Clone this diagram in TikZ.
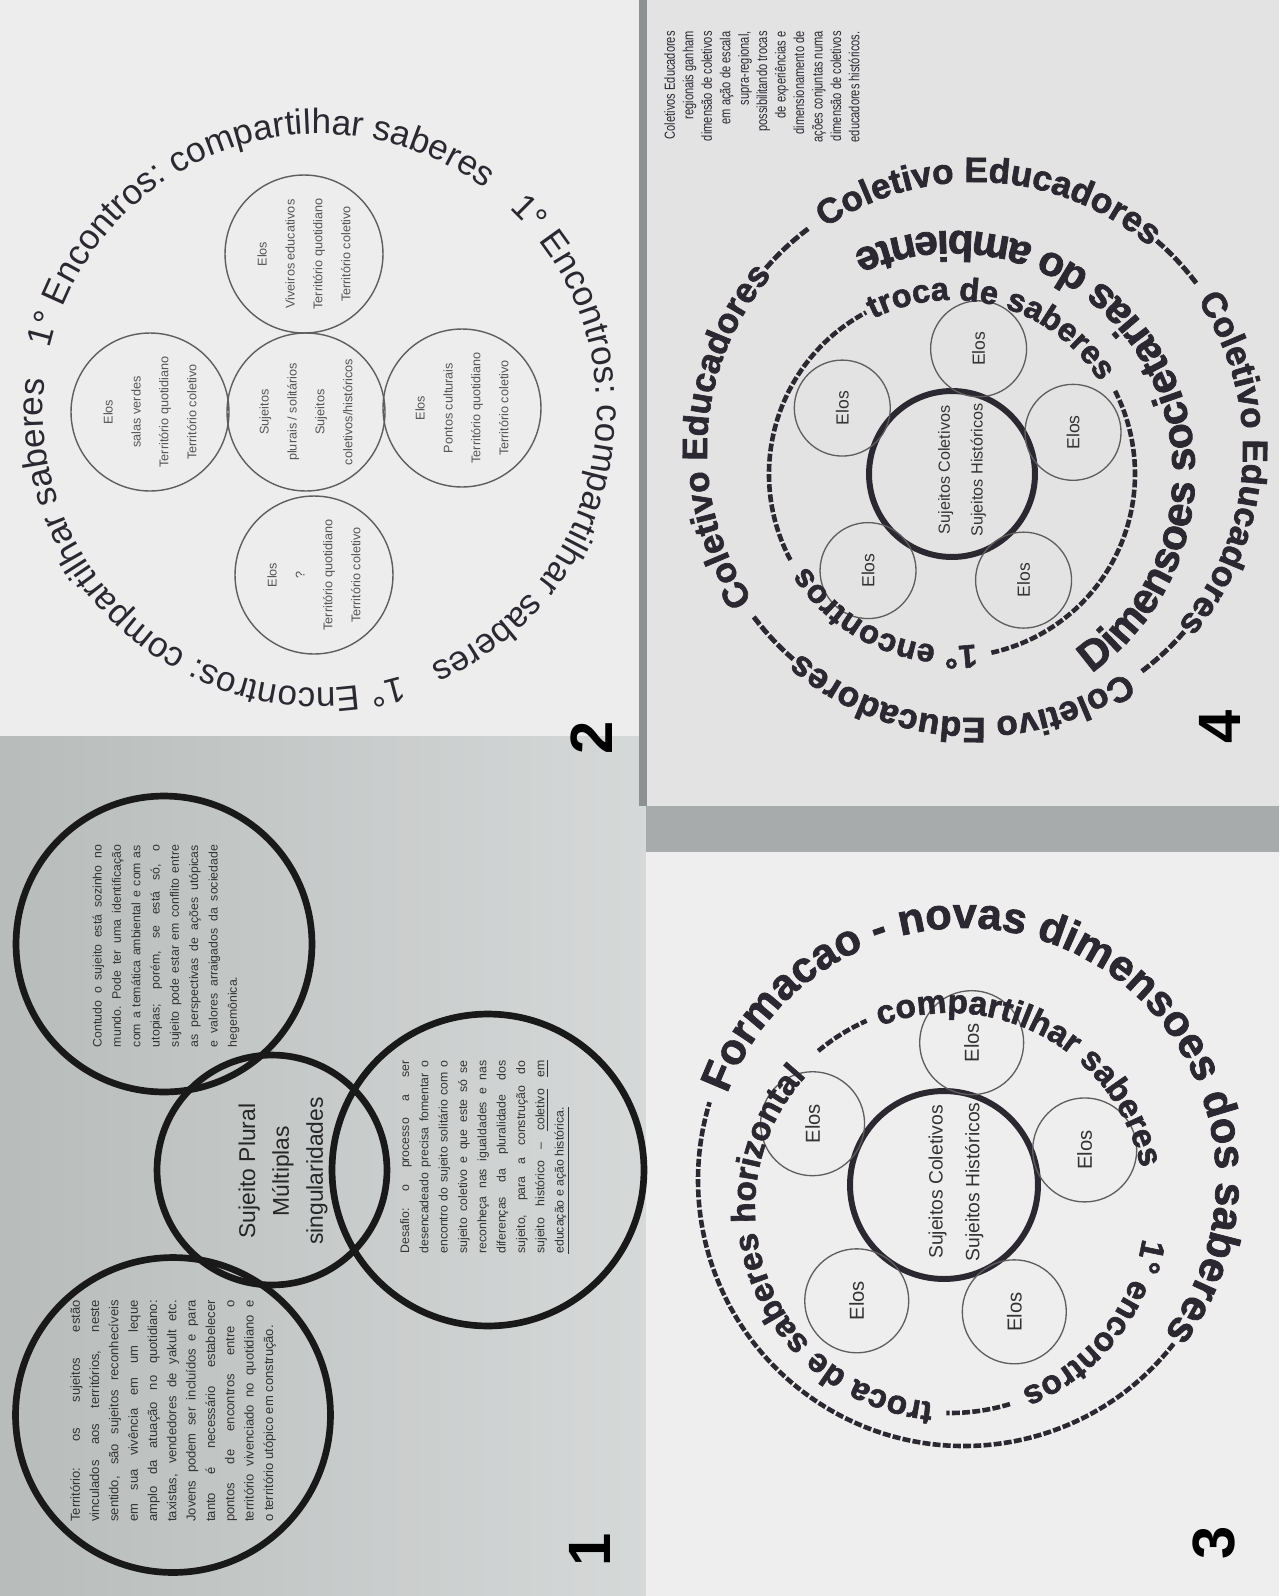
\documentclass[tikz,border=0pt]{standalone}
\usepackage{fontspec}
\setmainfont{Liberation Sans}
\newfontfamily\heavyfont{Liberation Sans}[FakeBold=1.8]
\newfontfamily\narrowfont{Liberation Sans}[FakeStretch=0.76]
\usepackage{tikz}
\usetikzlibrary{calc,decorations.text}
\definecolor{papelA}{HTML}{EDEDED}
\definecolor{papelB}{HTML}{E3E3E3}
\definecolor{papelC}{HTML}{EEEEEE}
\definecolor{fotocinza}{HTML}{C8CCCB}
\definecolor{faixa}{HTML}{A7ABAB}
\definecolor{tinta}{HTML}{2B2831}
\definecolor{cinzatexto}{HTML}{555555}
\definecolor{traco}{HTML}{5E5E5E}
\newdimen\jlw
\newcommand{\jline}[1]{\hbox to\jlw{\spaceskip=.28em plus 1fil\xspaceskip=.28em plus 1fil\relax#1}}

\begin{document}
\begin{tikzpicture}[x=0.02cm,y=0.02cm,
  disco/.style={circle,draw=traco,line width=0.8pt,minimum size=3.16cm,inner sep=0pt,
    rotate=90,align=center,text=cinzatexto,font=\fontsize{7.2}{15.9}\selectfont},
  elos/.style={circle,draw=traco,line width=0.75pt,inner sep=0pt,rotate=90,text=black!80},
  nucleo/.style={circle,draw=tinta,line width=3.4pt,inner sep=0pt},
  aro/.style={circle,draw=black!90,line width=3.8pt,inner sep=0pt},
  paragrafo/.style={rotate=90,inner sep=0pt,text=black!80},
  numero/.style={rotate=90,inner sep=0pt,font=\bfseries\fontsize{34}{34}\selectfont},
  tracejado/.style={draw=tinta,line width=2.6pt,dash pattern=on 4.5pt off 1.3pt},
  anel/.style 2 args={decorate,decoration={text along path,text color=tinta,text={|#1|#2}}}]
  \useasboundingbox (0,0) rectangle (1279,-1596); % 全体の枠
  \fill[papelA] (0,0) rectangle (643,-736); % 2の紙
  \shade[left color=fotocinza!92!black,right color=fotocinza!75!white] (0,-736) rectangle (646,-1596); % 1の写真
  \fill[papelB] (646,0) rectangle (1279,-806); % 4の紙
  \fill[faixa] (646,-806) rectangle (1279,-852); % 4と3の間の帯
  \fill[papelC] (646,-852) rectangle (1279,-1596); % 3の紙
  \fill[faixa!85!black] (639,0) rectangle (647,-806); % 2と4の間の線

  % 2
  \coordinate (c2) at (320,-411);
  \foreach \s in {167,47,-73}
    \path[anel={\fontsize{20}{20}\selectfont}{1° Encontros: compartilhar saberes}]
      ($(c2)+(\s:277)$) arc[start angle=\s,end angle=\s-118,radius=277]; % 円周上の文字
  \node[disco] (salas) at (150,-412) {Elos\\salas verdes\\Território quotidiano\\Território coletivo};
  \node[disco] (plurais) at (306,-412) {Sujeitos\\plurais / solitários\\Sujeitos\\coletivos/históricos};
  \node[disco] (pontos) at (462,-408) {Elos\\Pontos culturais\\Território quotidiano\\Território coletivo};
  \node[disco] (viveiros) at (304,-254) {Elos\\Viveiros educativos\\Território quotidiano\\Território coletivo};
  \node[disco] (incognita) at (314,-575) {Elos\\?\\Território quotidiano\\Território coletivo};
  \node[numero] (num2) at (592,-738) {2};

  % 4
  \node[anchor=east,rotate=90,align=right,inner sep=0pt,text=tinta,
    font=\narrowfont\fontsize{8.3}{10.5}\selectfont] (nota) at (762,-31)
    {Coletivos Educadores\\regionais ganham\\dimensão de coletivos\\em ação de escala\\supra-regional,\\possibilitando trocas\\de experiências e\\dimensionamento de\\ações conjuntas numa\\dimensão de coletivos\\educadores históricos.};
  \coordinate (c4) at (975,-450);
  \foreach \s in {214,124,34,-56}
    \path[anel={\heavyfont\bfseries\fontsize{20}{20}\selectfont}{Coletivo Educadores-----}]
      ($(c4)+(\s:268)$) arc[start angle=\s,end angle=\s-95,radius=268]; % 外側の文字
  \node[nucleo,minimum size=3.32cm] (nucleo4) at (952,-474) {};
  \node[rotate=90,align=center,inner sep=0pt,text=black!80,font=\fontsize{9.2}{18.7}\selectfont] (sujeitos4) at (962,-470) {Sujeitos Coletivos\\Sujeitos Históricos};
  \foreach \a [count=\i] in {149,78,19,-56,-131}
    \node[elos,minimum size=1.92cm,font=\fontsize{10}{11}\selectfont] (elos4-\i) at ($(nucleo4)+(\a:128)$) {Elos};
  \path[anel={\heavyfont\bfseries\fontsize{18.5}{18.5}\selectfont}{troca de saberes}]
    ($(nucleo4)+(117:174)$) arc[start angle=117,end angle=15,radius=174];
  \path[anel={\heavyfont\bfseries\fontsize{18.5}{18.5}\selectfont}{1° encontros}]
    ($(nucleo4)+(-82:172)$) arc[start angle=-82,end angle=-165,radius=172];
  \draw[tracejado] ($(nucleo4)+(27:183)$) arc[start angle=27,end angle=-78,radius=183]; % 右の破線
  \draw[tracejado] ($(nucleo4)+(-152:183)$) arc[start angle=-152,end angle=-242,radius=183]; % 左の破線
  \path[anel={\heavyfont\bfseries\fontsize{24}{24}\selectfont}{Dimensoes societarias do ambiente}]
    ($(nucleo4)+(-55:243)$) arc[start angle=-55,end angle=130,radius=243]; % 内向きの文字
  \node[numero] (num4) at (1220,-727) {4};

  % 3
  \node[nucleo,minimum size=3.76cm] (nucleo3) at (944,-1185) {};
  \node[rotate=90,align=center,inner sep=0pt,text=black!80,font=\fontsize{11}{21}\selectfont] (sujeitos3) at (956,-1182) {Sujeitos Coletivos\\Sujeitos Históricos};
  \foreach \a [count=\i] in {155,79,14,-61,-127}
    \node[elos,minimum size=2.08cm,font=\fontsize{11.5}{12}\selectfont] (elos3-\i) at ($(nucleo3)+(\a:145)$) {Elos};
  \coordinate (c3) at (964,-1180);
  \path[anel={\heavyfont\bfseries\fontsize{24.5}{25}\selectfont}{Formacao - novas dimensoes dos saberes}]
    ($(c3)+(160:252)$) arc[start angle=160,end angle=-45,radius=252];
  \draw[tracejado] ($(c3)+(-38:266)$) arc[start angle=-38,end angle=-197,radius=266]; % 外側の破線
  \coordinate (m3) at (950,-1208);
  \path[anel={\heavyfont\bfseries\fontsize{19}{19}\selectfont}{troca de saberes horizontal}]
    ($(m3)+(-95:195)$) arc[start angle=-95,end angle=-240,radius=195];
  \draw[tracejado] ($(m3)+(130:205)$) arc[start angle=130,end angle=114,radius=205];
  \path[anel={\heavyfont\bfseries\fontsize{19}{19}\selectfont}{compartilhar saberes}]
    ($(m3)+(111:195)$) arc[start angle=111,end angle=-5,radius=195];
  \path[anel={\heavyfont\bfseries\fontsize{19}{19}\selectfont}{1° encontros}]
    ($(m3)+(-9:195)$) arc[start angle=-9,end angle=-80,radius=195];
  \draw[tracejado] ($(m3)+(-73:205)$) arc[start angle=-73,end angle=-91,radius=205];
  \node[numero] (num3) at (1214,-1543) {3};

  % 1
  \node[aro,minimum size=5.92cm] (contudo) at (164,-944) {};
  \node[aro,minimum size=4.6cm] (plural) at (272,-1170) {};
  \node[aro,minimum size=6.3cm] (territorio) at (173,-1415) {};
  \node[aro,minimum size=6.24cm] (desafio) at (488,-1170) {};
  \node[paragrafo,font=\fontsize{7}{11}\selectfont] (contudo-txt) at (166,-946)
    {\vbox{\jlw=115pt
     \jline{Contudo o sujeito está sozinho no}
     \jline{mundo. Pode ter uma identificação}
     \jline{com a temática ambiental e com as}
     \jline{utopias; porém, se está só, o}
     \jline{sujeito pode estar em conflito entre}
     \jline{as perspectivas de ações utópicas}
     \jline{e valores arraigados da sociedade}
     \hbox{hegemônica.}}};
  \node[rotate=90,align=center,inner sep=0pt,text=black!85,font=\fontsize{13}{19.3}\selectfont] (plural-txt) at (283,-1171)
    {Sujeito Plural\\Múltiplas\\singularidades};
  \node[paragrafo,font=\fontsize{7}{11}\selectfont] (desafio-txt) at (485,-1157)
    {\vbox{\jlw=110pt
     \jline{Desafio: o processo a ser}
     \jline{desencadeado precisa fomentar o}
     \jline{encontro do sujeito solitário com o}
     \jline{sujeito coletivo e que este só se}
     \jline{reconheça nas igualdades e nas}
     \jline{diferenças da pluralidade dos}
     \jline{sujeito, para a construção do}
     \jline{sujeito histórico – \underline{coletivo} \underline{em}}
     \hbox{\underline{educação e ação histórica.}}}};
  \node[paragrafo,font=\fontsize{7.4}{11}\selectfont] (territorio-txt) at (173,-1411)
    {\vbox{\jlw=126pt
     \jline{Território: os sujeitos estão}
     \jline{vinculados aos territórios, neste}
     \jline{sentido, são sujeitos reconhecíveis}
     \jline{em sua vivência em um leque}
     \jline{amplo da atuação no quotidiano:}
     \jline{taxistas, vendedores de yakult etc.}
     \jline{Jovens podem ser incluídos e para}
     \jline{tanto é necessário estabelecer}
     \jline{pontos de encontros entre o}
     \jline{território vivenciado no quotidiano e}
     \hbox{o território utópico em construção.}}};
  \node[numero] (num1) at (590,-1550) {1};
\end{tikzpicture}
\end{document}
